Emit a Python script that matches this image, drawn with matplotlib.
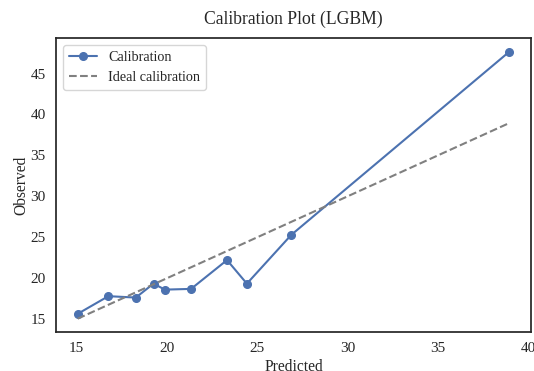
import matplotlib
matplotlib.use("Agg")
import matplotlib.pyplot as plt
import numpy as np
import seaborn as sns

# binned mean predicted vs. mean observed values
predicted = [15.05, 16.75, 18.27, 19.25, 19.88, 21.33, 23.32, 24.42, 26.88, 38.96]
observed = [15.64, 17.80, 17.63, 19.33, 18.60, 18.69, 22.21, 19.33, 25.29, 47.68]

sns.set_theme(style="white")
plt.rcParams["font.family"] = ["Liberation Serif", "DejaVu Serif"]

fig = plt.figure(figsize=(5.34, 3.71), dpi=100)
ax = fig.add_axes([0.105, 0.105, 0.8895, 0.792])

ax.plot(predicted, observed, marker="o", color="#4C72B0", linewidth=1.5,
        markersize=5.5, label="Calibration")
ideal = [min(predicted), max(predicted)]
ax.plot(ideal, ideal, linestyle="--", color="gray", linewidth=1.5,
        label="Ideal calibration")

ax.set_xticks([15, 20, 25, 30, 35, 40])
ax.set_yticks([15, 20, 25, 30, 35, 40, 45])
ax.tick_params(labelsize=11, length=0, pad=7.5)
for side in ax.spines.values():
    side.set_edgecolor("0.15")
    side.set_linewidth(1.25)

ax.set_xlabel("Predicted", fontsize=11.2, labelpad=2.5)
ax.set_ylabel("Observed", fontsize=11.2, labelpad=1)
ax.set_title("Calibration Plot (LGBM)", fontsize=12.7, pad=10)
ax.legend(loc="upper left", fontsize=10.2)

fig.savefig("out.png", dpi=100)
